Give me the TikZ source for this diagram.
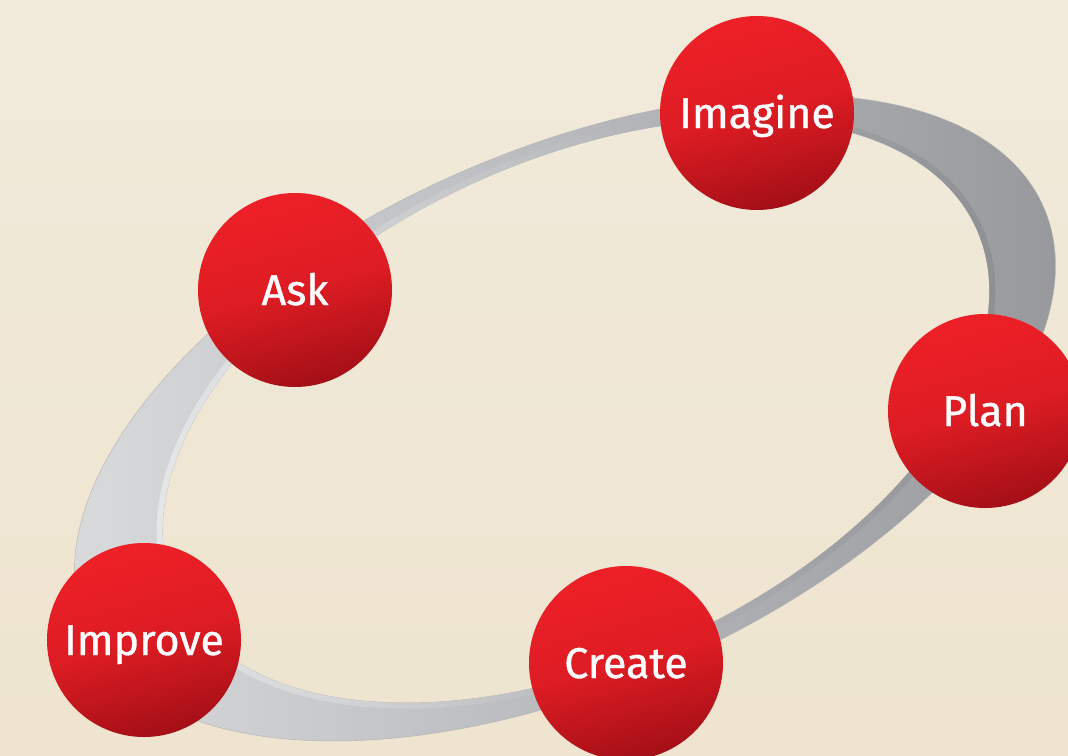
\documentclass[tikz,border=0pt]{standalone}
\usepackage{fontspec}
\setmainfont{Fira Sans}
\newfontfamily\stagefont{Fira Sans}[FakeBold=0.8]
\definecolor{bgtop}{HTML}{F1EADB}
\definecolor{bgbot}{HTML}{EEE4CF}
\definecolor{ringlight}{HTML}{DCDDDF}
\definecolor{ringdark}{HTML}{95969A}
\definecolor{ringhi}{HTML}{EAEBEC}
\definecolor{ringlow}{HTML}{8A8B8F}
\definecolor{balltop}{HTML}{EE2027}
\definecolor{ballmid}{HTML}{DD1C23}
\definecolor{ballbot}{HTML}{A40F17}
\tikzset{
  stage/.style={circle, minimum size=194pt, inner sep=0pt,
    top color=balltop, bottom color=ballbot, middle color=ballmid,
    shading angle=15, text=white,
    font=\stagefont\fontsize{43}{46}\selectfont, text height=30pt, text depth=0pt},
  ring/.style={left color=ringlight, right color=ringdark, even odd rule,
    draw=black!30, line width=0.4pt},
  ringedge/.style={left color=ringhi, right color=ringlow, even odd rule},
}
\begin{document}
\begin{tikzpicture}[x=1pt, y=-1pt]
    \useasboundingbox (0,0) rectangle (1068,755);
    \shade[top color=bgtop, bottom color=bgbot] (0,0) rectangle (1068,755);

    % grey ring behind the stages
    \shade[ring]
      {[shift={(565,418)}, rotate=23.85] (0,0) ellipse [x radius=523, y radius=267]}
      {[shift={(576,411)}, rotate=24.6] (0,0) ellipse [x radius=440, y radius=250]};
    \shade[ringedge]
      {[shift={(576,411)}, rotate=24.6] (0,0) ellipse [x radius=440, y radius=250]
        (0,0) ellipse [x radius=446, y radius=256]};

    % stages
    \node[stage] (imagine) at (757,113) {Imagine};
    \node[stage] (ask) at (295,290) {Ask};
    \node[stage] (plan) at (985,411) {Plan};
    \node[stage] (create) at (626,663) {Create};
    \node[stage] (improve) at (144,640) {Improve};
\end{tikzpicture}
\end{document}
